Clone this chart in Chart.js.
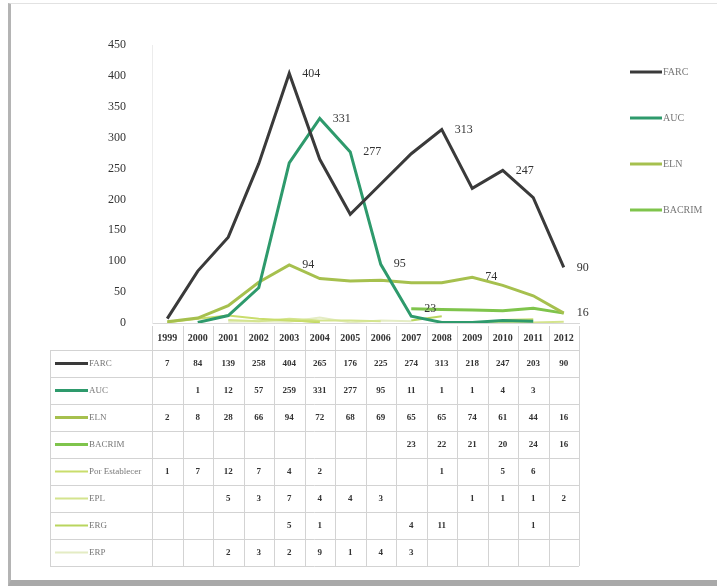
<!DOCTYPE html>
<html>
<head>
<meta charset="utf-8">
<script src="https://cdn.jsdelivr.net/npm/chart.js@4.4.1/dist/chart.umd.min.js"></script>
<style>
  html, body { margin: 0; padding: 0; background: #fff; }
  #frame {
    position: absolute; left: 8px; top: 3px; width: 709px; height: 576px;
    border-left: 3px solid #b4b4b4; border-top: 1px solid #e2e2e2; border-bottom: 6px solid #a9a9a9;
  }
  #wrap { position: absolute; left: 0; top: 0; width: 717px; height: 587px; }
</style>
</head>
<body>
<div id="frame"></div>
<div id="wrap"><canvas id="chart" width="717" height="587"></canvas></div>
<script>
const years = ["1999", "2000", "2001", "2002", "2003", "2004", "2005", "2006", "2007", "2008", "2009", "2010", "2011", "2012"];
const seriesNames = ["FARC", "AUC", "ELN", "BACRIM", "Por Establecer", "EPL", "ERG", "ERP"];

const farc = [7, 84, 139, 258, 404, 265, 176, 225, 274, 313, 218, 247, 203, 90];
const auc = [null, 1, 12, 57, 259, 331, 277, 95, 11, 1, 1, 4, 3, null];
const eln = [2, 8, 28, 66, 94, 72, 68, 69, 65, 65, 74, 61, 44, 16];
const bacrim = [null, null, null, null, null, null, null, null, 23, 22, 21, 20, 24, 16];
const porEstablecer = [1, 7, 12, 7, 4, 2, null, null, null, 1, null, 5, 6, null];
const epl = [null, null, 5, 3, 7, 4, 4, 3, null, null, 1, 1, 1, 2];
const erg = [null, null, null, null, 5, 1, null, null, 4, 11, null, null, 1, null];
const erp = [null, null, 2, 3, 2, 9, 1, 4, 3, null, null, null, null, null];

const yTicks = [0, 50, 100, 150, 200, 250, 300, 350, 400, 450];

// [series, year index] of the values written on the lines
const labelPoints = [[0, 4], [0, 9], [0, 11], [0, 13], [1, 5], [1, 6], [1, 7], [2, 4], [2, 10], [3, 8], [3, 13]];

const allSeries = [farc, auc, eln, bacrim, porEstablecer, epl, erg, erp];
const colors = ["#3a3a3a", "#2e9a6c", "#a6c04e", "#7fc44c", "#c9dd6c", "#d4e48e", "#b9d55e", "#e4ecc4"];
const widths = [3, 3, 3, 3, 2, 2, 2, 2];

const serif = "'Liberation Serif', 'DejaVu Serif', serif";

const tablePlugin = {
  id: "dataTable",
  afterDraw(chart) {
    const c = chart.ctx;
    const x = chart.scales.x;
    const band = (x.right - x.left) / years.length;
    const top = x.bottom;
    const rowH = 27;
    const bottom = top + rowH * seriesNames.length;
    const labelLeft = 50;

    c.save();
    c.strokeStyle = "#d3d3d3";
    c.lineWidth = 1;
    c.beginPath();
    for (let i = 0; i <= years.length; i++) {
      const px = Math.round(x.left + band * i) + 0.5;
      c.moveTo(px, chart.chartArea.bottom + 3);
      c.lineTo(px, bottom);
    }
    c.moveTo(labelLeft + 0.5, top);
    c.lineTo(labelLeft + 0.5, bottom);
    for (let r = 0; r <= seriesNames.length; r++) {
      const py = Math.round(top + rowH * r) + 0.5;
      c.moveTo(labelLeft, py);
      c.lineTo(x.right, py);
    }
    c.stroke();

    c.textBaseline = "middle";
    seriesNames.forEach((name, r) => {
      const cy = top + rowH * r + rowH / 2;
      c.strokeStyle = colors[r];
      c.lineWidth = widths[r];
      c.beginPath();
      c.moveTo(55, cy);
      c.lineTo(88, cy);
      c.stroke();
      c.fillStyle = "#777";
      c.font = "9px " + serif;
      c.textAlign = "left";
      c.fillText(name, 89, cy);

      c.fillStyle = "#333";
      c.font = "bold 9px " + serif;
      c.textAlign = "center";
      allSeries[r].forEach((v, i) => {
        if (v === null) return;
        c.fillText(String(v), x.getPixelForValue(i), cy);
      });
    });
    c.restore();
  },
};

const labelsPlugin = {
  id: "pointLabels",
  afterDatasetsDraw(chart) {
    const c = chart.ctx;
    c.save();
    c.fillStyle = "#333";
    c.font = "12px " + serif;
    c.textAlign = "left";
    c.textBaseline = "middle";
    labelPoints.forEach(([s, i]) => {
      const pt = chart.getDatasetMeta(s).data[i];
      c.fillText(String(allSeries[s][i]), pt.x + 13, pt.y);
    });
    c.restore();
  },
};

const legendPlugin = {
  id: "sideLegend",
  afterDraw(chart) {
    const c = chart.ctx;
    c.save();
    c.font = "10px " + serif;
    c.textBaseline = "middle";
    c.textAlign = "left";
    for (let s = 0; s < 4; s++) {
      const cy = chart.chartArea.top + 27 + s * 46;
      c.strokeStyle = colors[s];
      c.lineWidth = 3;
      c.beginPath();
      c.moveTo(630, cy);
      c.lineTo(662, cy);
      c.stroke();
      c.fillStyle = "#777";
      c.fillText(seriesNames[s], 663, cy);
    }
    c.restore();
  },
};

const ctx = document.getElementById("chart").getContext("2d");

new Chart(ctx, {
  type: "line",
  data: {
    labels: years,
    datasets: allSeries.map((data, i) => ({
      label: seriesNames[i],
      data: data,
      borderColor: colors[i],
      backgroundColor: colors[i],
      borderWidth: widths[i],
      pointRadius: 0,
      tension: 0,
      spanGaps: false,
      order: i,
    })),
  },
  options: {
    responsive: false,
    animation: false,
    layout: { padding: { left: 0, right: 138, top: 45, bottom: 237 } },
    plugins: { legend: { display: false }, tooltip: { enabled: false } },
    scales: {
      x: {
        offset: true,
        grid: { display: false, drawTicks: false },
        border: { color: "#d8d8d8" },
        ticks: { color: "#333", padding: 9, font: { family: serif, size: 10, weight: "bold" }, maxRotation: 0 },
        afterFit(scale) { scale.height = 27; },
      },
      y: {
        min: 0,
        max: 450,
        grid: { display: false, drawTicks: false },
        border: { color: "#ececec" },
        afterBuildTicks(scale) { scale.ticks = yTicks.map((v) => ({ value: v })); },
        ticks: { color: "#333", padding: 26, font: { family: serif, size: 12 } },
        afterFit(scale) { scale.width = 152; },
      },
    },
  },
  plugins: [tablePlugin, labelsPlugin, legendPlugin],
});
</script>
</body>
</html>
